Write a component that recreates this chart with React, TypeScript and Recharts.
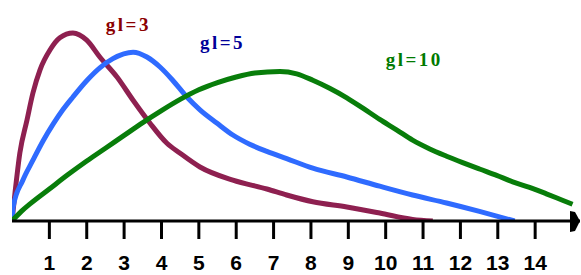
import { LineChart, Line, XAxis, YAxis, ReferenceDot } from "recharts";

// chi-square style density curves
const gl3 = [
  { x: 0, y: 0 },
  { x: 0.08, y: 0.035 },
  { x: 0.21, y: 0.085 },
  { x: 0.4, y: 0.126 },
  { x: 0.56, y: 0.16 },
  { x: 0.75, y: 0.189 },
  { x: 1.02, y: 0.214 },
  { x: 1.28, y: 0.229 },
  { x: 1.63, y: 0.235 },
  { x: 2.0, y: 0.226 },
  { x: 2.35, y: 0.205 },
  { x: 2.81, y: 0.18 },
  { x: 3.24, y: 0.151 },
  { x: 3.69, y: 0.1225 },
  { x: 4.14, y: 0.0975 },
  { x: 4.49, y: 0.085 },
  { x: 5.03, y: 0.0675 },
  { x: 5.91, y: 0.051 },
  { x: 6.82, y: 0.04 },
  { x: 7.35, y: 0.0325 },
  { x: 8.05, y: 0.024 },
  { x: 8.96, y: 0.0175 },
  { x: 9.84, y: 0.01 },
  { x: 10.72, y: 0.002 },
  { x: 11.26, y: 0 },
];

const gl5 = [
  { x: 0, y: 0 },
  { x: 0.03, y: 0.0175 },
  { x: 0.29, y: 0.051 },
  { x: 0.56, y: 0.076 },
  { x: 0.83, y: 0.1 },
  { x: 1.1, y: 0.121 },
  { x: 1.36, y: 0.139 },
  { x: 1.63, y: 0.155 },
  { x: 2.01, y: 0.176 },
  { x: 2.35, y: 0.1915 },
  { x: 2.7, y: 0.203 },
  { x: 3.24, y: 0.211 },
  { x: 3.61, y: 0.205 },
  { x: 3.96, y: 0.1925 },
  { x: 4.3, y: 0.176 },
  { x: 4.68, y: 0.155 },
  { x: 5.03, y: 0.139 },
  { x: 5.48, y: 0.1225 },
  { x: 5.91, y: 0.1075 },
  { x: 6.36, y: 0.096 },
  { x: 6.82, y: 0.087 },
  { x: 7.35, y: 0.078 },
  { x: 8.05, y: 0.066 },
  { x: 8.96, y: 0.055 },
  { x: 9.84, y: 0.0435 },
  { x: 10.72, y: 0.0325 },
  { x: 11.63, y: 0.0225 },
  { x: 12.51, y: 0.012 },
  { x: 13.45, y: 0 },
];

const gl10 = [
  { x: 0, y: 0 },
  { x: 0.25, y: 0.012 },
  { x: 0.5, y: 0.022 },
  { x: 1.0, y: 0.04 },
  { x: 1.5, y: 0.058 },
  { x: 2.0, y: 0.075 },
  { x: 2.5, y: 0.091 },
  { x: 3.0, y: 0.107 },
  { x: 3.5, y: 0.123 },
  { x: 4.0, y: 0.138 },
  { x: 4.5, y: 0.152 },
  { x: 5.0, y: 0.164 },
  { x: 5.5, y: 0.173 },
  { x: 6.0, y: 0.18 },
  { x: 6.5, y: 0.185 },
  { x: 7.17, y: 0.187 },
  { x: 7.62, y: 0.184 },
  { x: 8.05, y: 0.176 },
  { x: 8.5, y: 0.166 },
  { x: 8.96, y: 0.154 },
  { x: 9.39, y: 0.141 },
  { x: 9.84, y: 0.127 },
  { x: 10.29, y: 0.114 },
  { x: 10.72, y: 0.101 },
  { x: 11.18, y: 0.09 },
  { x: 11.63, y: 0.081 },
  { x: 12.06, y: 0.073 },
  { x: 12.51, y: 0.065 },
  { x: 12.97, y: 0.057 },
  { x: 13.4, y: 0.049 },
  { x: 13.85, y: 0.042 },
  { x: 14.3, y: 0.034 },
  { x: 14.73, y: 0.026 },
  { x: 15.0, y: 0.021 },
];

const xTicks = [1, 2, 3, 4, 5, 6, 7, 8, 9, 10, 11, 12, 13, 14];

const labelFont = {
  fontFamily: "'Liberation Serif', serif",
  fontWeight: 700,
  fontSize: 19,
  letterSpacing: 2.5,
};

function Tick({ x, y, payload }: any) {
  return (
    <text
      x={x}
      y={y + 29}
      textAnchor="middle"
      fill="#000"
      fontFamily="'Liberation Sans', sans-serif"
      fontWeight={700}
      fontSize={21}>
      {payload.value}
    </text>
  );
}

const curveLabel = (text: string, color: string) => (props: any) =>
  (
    <text x={props.cx} y={props.cy} fill={color} style={labelFont}>
      {text}
    </text>
  );

const arrow = (props: any) => (
  <polygon
    points={`${props.cx - 10},${props.cy - 10} ${props.cx - 5},${props.cy - 9} ${props.cx},${props.cy} ${props.cx - 5},${props.cy + 10} ${props.cx - 10},${props.cy + 11}`}
    fill="#000"
  />
);

export default function App() {
  return (
    <div style={{ position: "absolute", left: 0, top: 0, background: "#fff" }}>
      <LineChart
        width={581}
        height={275}
        margin={{ top: 21, right: 1, bottom: 0, left: 12 }}>
        <XAxis
          dataKey="x"
          type="number"
          domain={[0, 15.2]}
          ticks={xTicks}
          allowDataOverflow
          height={54}
          tickSize={18}
          tick={<Tick />}
          axisLine={{ stroke: "#000", strokeWidth: 3 }}
          tickLine={{ stroke: "#000", strokeWidth: 3 }}
        />
        <YAxis hide type="number" domain={[0, 0.25]} allowDataOverflow />
        <Line
          data={gl3}
          dataKey="y"
          type="monotone"
          stroke="#8E2050"
          strokeWidth={5}
          dot={false}
          isAnimationActive={false}
        />
        <Line
          data={gl5}
          dataKey="y"
          type="monotone"
          stroke="#2F6BFF"
          strokeWidth={5}
          dot={false}
          isAnimationActive={false}
        />
        <Line
          data={gl10}
          dataKey="y"
          type="monotone"
          stroke="#087D0A"
          strokeWidth={5}
          dot={false}
          isAnimationActive={false}
        />
        <ReferenceDot x={15.2} y={0} ifOverflow="visible" shape={arrow} />
        <ReferenceDot x={2.51} y={0.2375} ifOverflow="visible" shape={curveLabel("gl=3", "#8B0000")} />
        <ReferenceDot x={5.03} y={0.215} ifOverflow="visible" shape={curveLabel("gl=5", "#000099")} />
        <ReferenceDot x={10.0} y={0.194} ifOverflow="visible" shape={curveLabel("gl=10", "#007A00")} />
      </LineChart>
    </div>
  );
}
